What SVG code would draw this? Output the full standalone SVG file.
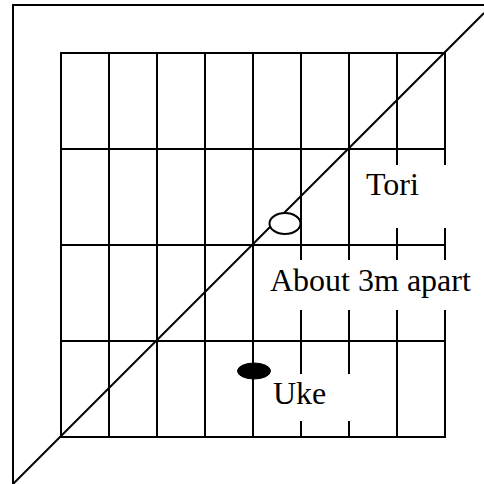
<svg xmlns="http://www.w3.org/2000/svg" width="484" height="484" viewBox="0 0 484 484">
<style>
.ln{stroke:#000;stroke-width:2;fill:none;stroke-linecap:square}
.lbl{font-family:"Liberation Serif","Times New Roman",serif;font-size:32px;fill:#000}
</style>
<rect width="484" height="484" fill="#fff"/>
<g id="border" class="ln">
<path d="M13,486 V5 H486"/>
</g>
<g id="grid" class="ln">
<path d="M61,53 H445 M61,149 H445 M61,245 H445 M61,341 H445 M61,437 H445"/>
<path d="M61,53 V437 M109,53 V437 M157,53 V437 M205,53 V437 M253,53 V437"/>
<path d="M301,53 V259 M301,311 V373 M301,422 V437"/>
<path d="M349,53 V259 M349,311 V373 M349,422 V437"/>
<path d="M397,53 V164 M397,229 V259 M397,311 V437"/>
<path d="M445,53 V164 M445,229 V259 M445,311 V437"/>
</g>
<g id="connectors" class="ln">
<line x1="13" y1="484" x2="484" y2="13" stroke-linecap="butt"/>
</g>
<g id="tori">
<ellipse cx="285" cy="223.5" rx="15.5" ry="10.5" fill="#fff" stroke="#000" stroke-width="2"/>
<text class="lbl" x="366" y="195">Tori</text>
</g>
<g id="distance">
<text class="lbl" x="270" y="291">About 3m apart</text>
</g>
<g id="uke">
<ellipse cx="254" cy="371" rx="16.5" ry="8" fill="#000" stroke="#000" stroke-width="1"/>
<text class="lbl" x="273" y="404">Uke</text>
</g>
</svg>
